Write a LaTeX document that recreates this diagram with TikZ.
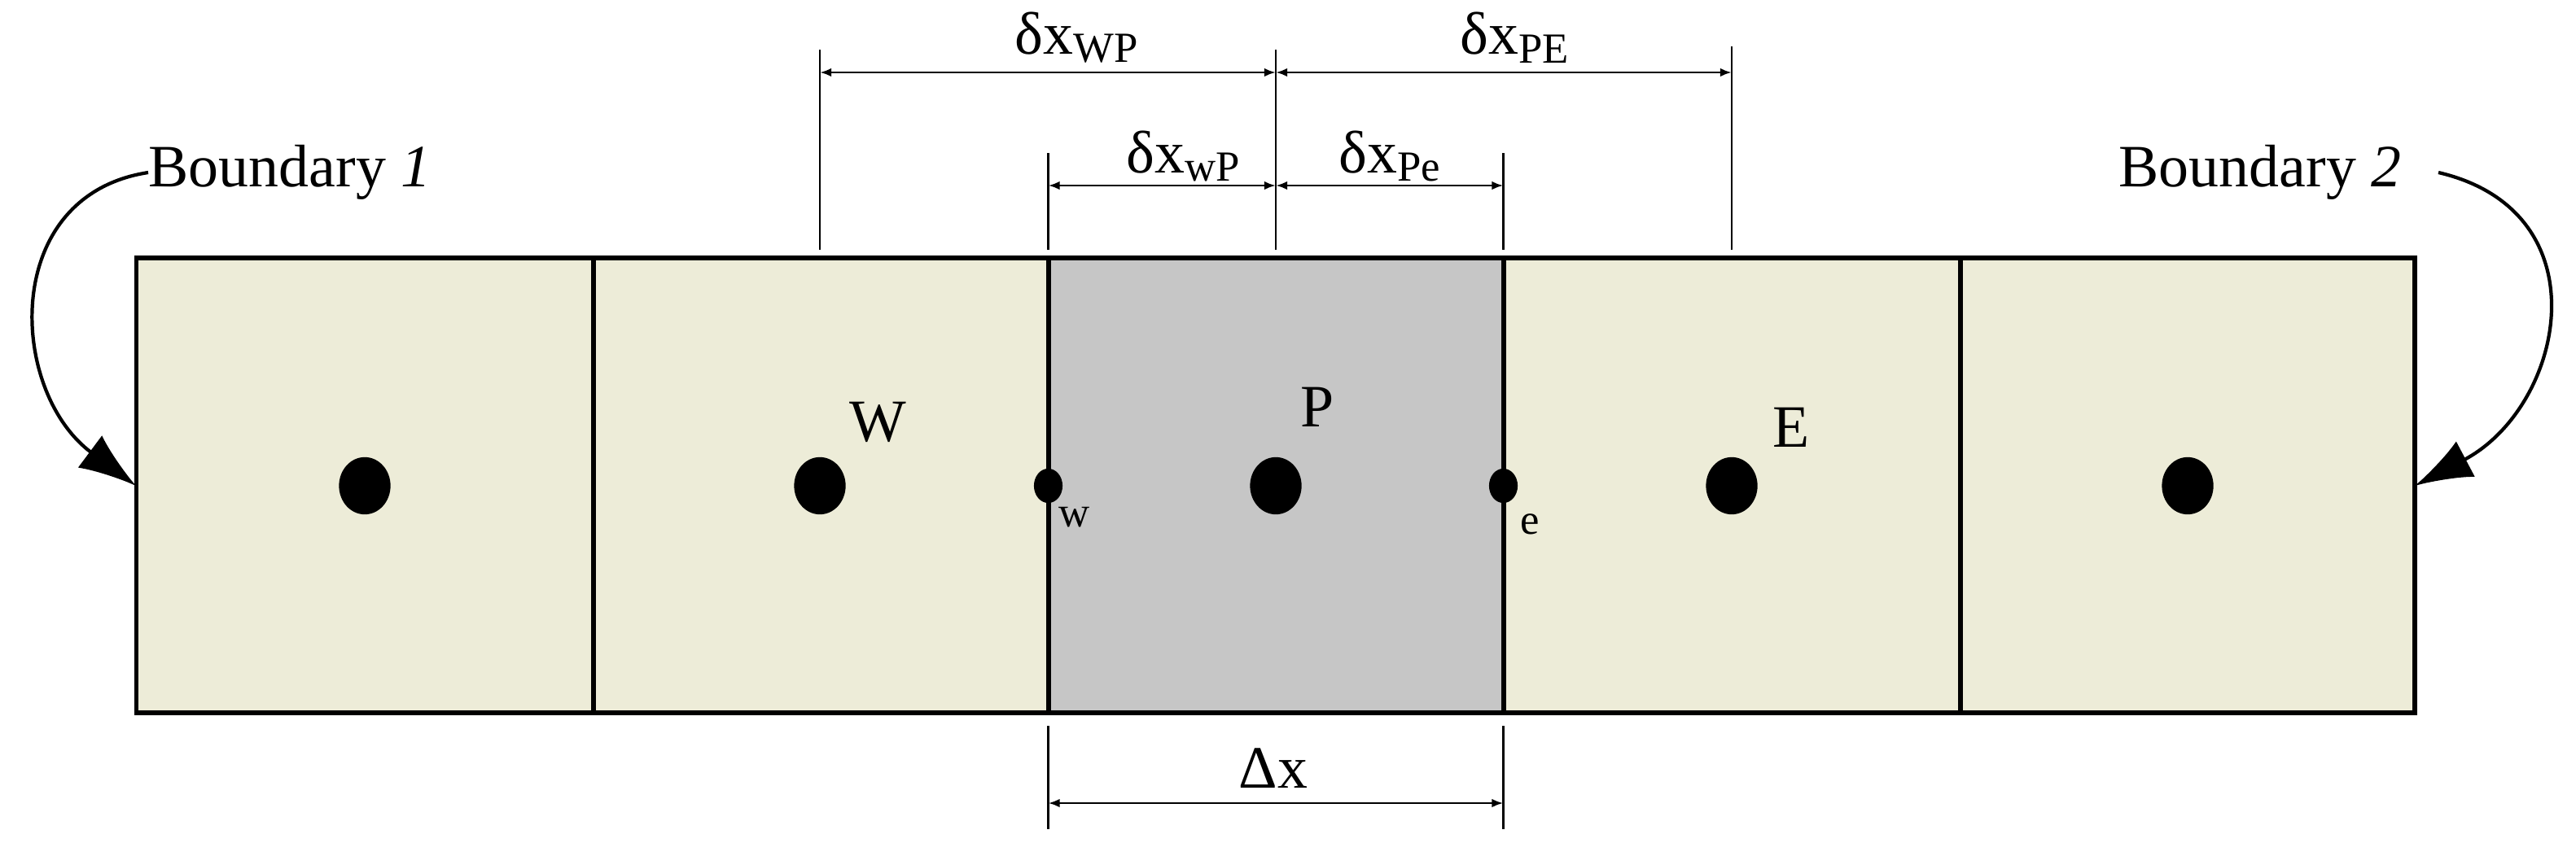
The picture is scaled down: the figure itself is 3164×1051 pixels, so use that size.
\documentclass[tikz,border=0pt]{standalone}
\usepackage{fontspec}
\setmainfont{Liberation Serif}
\newfontfamily\tms{Liberation Serif}
\usetikzlibrary{arrows.meta,shapes.geometric}
\definecolor{cream}{HTML}{EDECD8}
\definecolor{pgray}{HTML}{C6C6C6}
\begin{document}
\begin{tikzpicture}[x=0.01cm,y=-0.01cm,
  cell/.style={draw=black,line width=1.7pt},
  ext/.style={line width=0.8pt},
  dim/.style={line width=0.8pt,{Latex[length=4pt,width=3pt]}-{Latex[length=4pt,width=3pt]}},
  bigdot/.style={ellipse,fill=black,inner sep=0pt,minimum width=18pt,minimum height=20pt},
  smalldot/.style={ellipse,fill=black,inner sep=0pt,minimum width=10pt,minimum height=12pt},
  lab/.style={font=\tms\fontsize{21}{24}\selectfont,inner sep=0pt},
  slab/.style={font=\tms\fontsize{15}{18}\selectfont,inner sep=0pt},
  bnd/.style={line width=1.2pt,-{Latex[length=20pt,width=14pt]}}]
\useasboundingbox (0,0) rectangle (3164,1051);
\fill[white] (0,0) rectangle (3164,1051);
% cells
\foreach \a/\b/\c [count=\i] in {167.5/728.5/cream,728.5/1287.5/cream,1287.5/1846.5/pgray,1846.5/2407.5/cream,2407.5/2966/cream}
  \draw[cell,fill=\c] (\a,317) rectangle (\b,876);
% dots
\node[bigdot] (c1) at (448,597) {};
\node[bigdot] (W) at (1007,597) {};
\node[bigdot] (P) at (1567,597) {};
\node[bigdot] (E) at (2127,597) {};
\node[bigdot] (c5) at (2687,597) {};
\node[smalldot] (w) at (1287.5,597) {};
\node[smalldot] (e) at (1846.5,597) {};
% labels
\node[lab] (Wl) at (1078,519) {W};
\node[lab] (Pl) at (1618,500) {P};
\node[lab] (El) at (2200,525) {E};
\node[slab] (wl) at (1320,636) {w};
\node[slab] (el) at (1879,644) {e};
% extension lines
\coordinate (xW1) at (1007,61); \coordinate (xW2) at (1007,307);
\coordinate (xP1) at (1567,61); \coordinate (xP2) at (1567,307);
\coordinate (xE1) at (2127,57); \coordinate (xE2) at (2127,307);
\coordinate (xw1) at (1287.5,188); \coordinate (xw2) at (1287.5,307);
\coordinate (xe1) at (1846.5,188); \coordinate (xe2) at (1846.5,307);
\draw[ext] (xW1)--(xW2); \draw[ext] (xP1)--(xP2); \draw[ext] (xE1)--(xE2);
\draw[ext] (xw1)--(xw2); \draw[ext] (xe1)--(xe2);
\coordinate (bw1) at (1287.5,892); \coordinate (bw2) at (1287.5,1019);
\coordinate (be1) at (1846.5,892); \coordinate (be2) at (1846.5,1019);
\draw[ext] (bw1)--(bw2); \draw[ext] (be1)--(be2);
% dimension arrows
\coordinate (dWa) at (1007,89); \coordinate (dPa) at (1567,89); \coordinate (dEa) at (2127,89);
\draw[dim] (dWa)--(dPa); \draw[dim] (dPa)--(dEa);
\coordinate (dwb) at (1287.5,228); \coordinate (dPb) at (1567,228); \coordinate (deb) at (1846.5,228);
\draw[dim] (dwb)--(dPb); \draw[dim] (dPb)--(deb);
\coordinate (dwc) at (1287.5,987); \coordinate (dec) at (1846.5,987);
\draw[dim] (dwc)--(dec);
\node[lab] (l1) at (1322,46) {δx\raisebox{-3pt}{\fontsize{15}{18}\selectfont WP}};
\node[lab] (l2) at (1860,46) {δx\raisebox{-3pt}{\fontsize{15}{18}\selectfont PE}};
\node[lab] (l3) at (1453,192) {δx\raisebox{-3pt}{\fontsize{15}{18}\selectfont wP}};
\node[lab] (l4) at (1707,192) {δx\raisebox{-3pt}{\fontsize{15}{18}\selectfont Pe}};
\node[lab] (l5) at (1564,944) {Δx};
% boundaries
\node[lab,anchor=west] (B1) at (182,212) {Boundary \textit{1}};
\node[lab,anchor=east] (B2) at (2950,212) {Boundary \textit{2}};
\coordinate (t1) at (167,597); \coordinate (t2) at (2966,597);
\draw[bnd] (B1.west) .. controls (0,240) and (10,480) .. (t1);
\draw[bnd] (2995,212) .. controls (3200,260) and (3150,500) .. (t2);
\end{tikzpicture}
\end{document}
